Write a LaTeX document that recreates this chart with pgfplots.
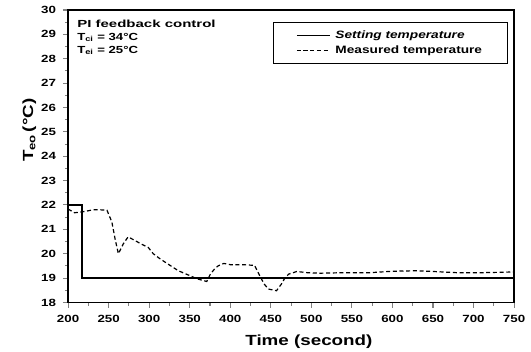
\documentclass[border=0pt]{standalone}
\usepackage{fontspec}
\setmainfont{Liberation Sans}[FakeStretch=1.28]
\usepackage{graphicx}
\usepackage{pgfplots}
\pgfplotsset{compat=1.18}
\begin{document}
\begin{tikzpicture}
\begin{axis}[
  scale only axis,
  width=334pt, height=219pt,
  xmin=200, xmax=750, ymin=18, ymax=30,
  xtick={200,250,...,750}, ytick={18,19,...,30},
  minor x tick num=1, minor y tick num=1,
  axis line style={line width=1.3pt},
  xtick pos=bottom, ytick pos=left,
  x tick style={line width=0.8pt},
  y tick style={line width=0.8pt},
  tick align=outside,
  major tick length=4pt, minor tick length=2.5pt,
  tick label style={font=\bfseries\fontsize{7.8}{9}\selectfont},
  xticklabel style={yshift=-2pt},
  yticklabel style={xshift=-1.5pt},
  /pgf/number format/assume math mode=true,
  /pgf/number format/1000 sep={},
  xlabel={Time (second)},
  ylabel={T\textsubscript{eo}\,(\textdegree C)},
  label style={font=\bfseries\fontsize{11}{13}\selectfont},
  xlabel style={at={(axis description cs:0.54,-0.133)}, anchor=center},
  ylabel style={at={(axis description cs:-0.087,0.589)}, anchor=center, rotate=0},
  legend style={at={(axis description cs:0.9865,0.959)}, anchor=north east, draw=black, line width=0.8pt,
    font=\bfseries\fontsize{8}{10}\selectfont, inner xsep=17pt, inner ysep=4pt, row sep=0pt,
    column sep=1.7pt, nodes={inner xsep=2pt, inner ysep=2pt},
    cells={anchor=west}},
  legend image code/.code={\draw[#1] (0pt,0pt) -- (24.7pt,0pt);},
  legend cell align=left,
]
\addplot[black, line width=1.1pt] coordinates {
(200,22.0) (217,22.0) (217,19.0) (750,19.0)
};
\addlegendentry{\itshape Setting temperature}
\addplot[black, line width=0.9pt, dash pattern=on 3pt off 2pt] coordinates {
(200,21.83) (208,21.68) (218,21.72) (231,21.8) (240,21.8) (248,21.78) (254,21.3) (258,20.6)
(262,20.0) (268,20.4) (274,20.69) (282,20.55) (290,20.4) (299,20.25) (305,20.0) (313,19.8)
(322,19.6) (336,19.3) (348,19.13) (359,18.97) (371,18.86) (375,19.13) (380,19.35) (385,19.5)
(392,19.6) (400,19.55) (415,19.55) (430,19.52) (437,19.05) (442,18.75) (447,18.55) (457,18.48)
(463,18.75) (467,18.98) (472,19.16) (482,19.27) (495,19.22) (511,19.2) (540,19.22) (572,19.22)
(600,19.28) (630,19.3) (650,19.27) (680,19.22) (710,19.22) (750,19.25)
};
\addlegendentry{Measured temperature}
\node[anchor=north west, align=left, font=\bfseries\fontsize{7.7}{9.7}\selectfont, inner sep=0pt]
  at (axis cs:211,29.6) {\scalebox{1.14}[1]{PI feedback control}\\
  T\textsubscript{ci} = 34\textdegree C\\
  T\textsubscript{ei} = 25\textdegree C};
\end{axis}
\pgfresetboundingbox
\path ([xshift=-51pt,yshift=-36.7pt]current axis.south west) rectangle ([xshift=12.7pt,yshift=7.5pt]current axis.north east);
\end{tikzpicture}
\end{document}
